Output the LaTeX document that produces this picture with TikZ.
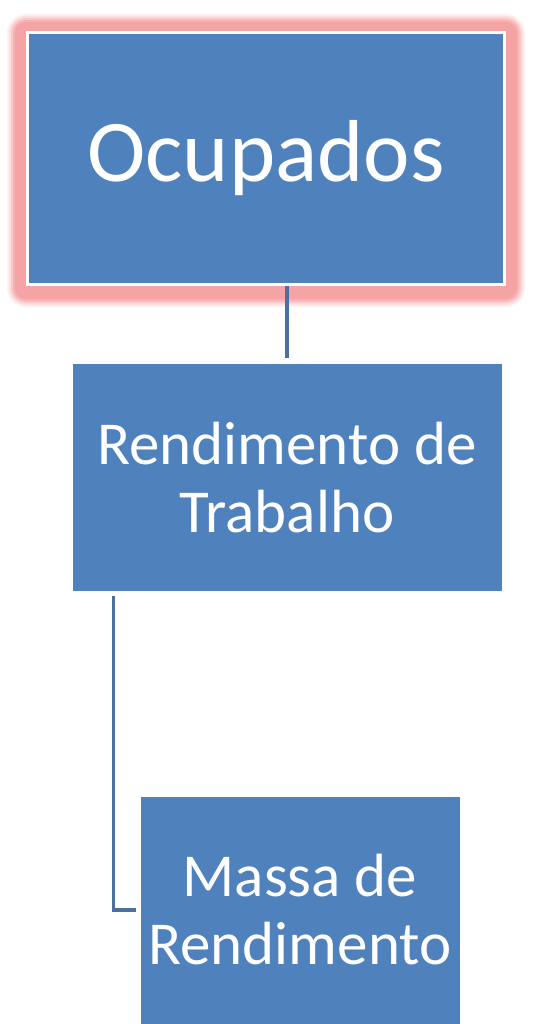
\documentclass[tikz,border=0pt]{standalone}
\usepackage{fontspec}
\setmainfont{Carlito}
\usetikzlibrary{positioning,backgrounds}
\definecolor{boxblue}{HTML}{4F81BD}
\definecolor{linkblue}{HTML}{4A6FA3}
\definecolor{glowred}{HTML}{F4A4A4}
\tikzset{main box/.style={rectangle,fill=boxblue,draw=white,text=white,inner sep=0pt,align=center},
  top box/.style={main box,line width=3pt,minimum width=477pt,minimum height=252pt,font=\fontsize{88}{100}\selectfont},
  sub box/.style={main box,line width=0.6pt,minimum width=430pt,minimum height=228pt,font=\fontsize{61}{68}\selectfont},
  link/.style={draw=linkblue,line width=3.3pt},}

\begin{document}
\begin{tikzpicture}[x=1pt,y=-1pt]
    \useasboundingbox (0,0) rectangle (553,1024);
    \node[top box] (ocup) at (266,158.5) {Ocupados};
    \node[sub box] (rend) [below=77pt of ocup, xshift=21pt] {Rendimento de\\Trabalho};
    \node[sub box, minimum width=320pt] (massa) [below=204pt of rend, xshift=13pt] {Massa de\\Rendimento};

    % glow round the top box
    \begin{scope}[on background layer]
      \foreach \g/\c in {19/15,17/35,15/60,13/85,11/100}
        \fill[glowred!\c!white, rounded corners=\g pt]
          ([shift={(-\g,{2-\g})}]ocup.north west) rectangle ([shift={(\g,{2+\g})}]ocup.south east);
    \end{scope}

    \draw[link] ([yshift=5pt]rend.north) -- (rend.north |- ocup.south);
    \draw[link] (rend.south west) ++(42,4) |- ([xshift=-4pt]massa.west);
  \end{tikzpicture}
\end{document}
